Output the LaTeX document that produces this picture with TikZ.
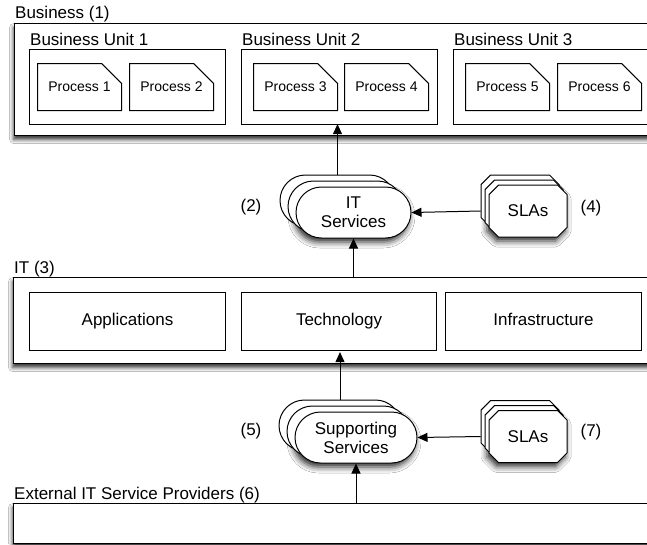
\documentclass[tikz,border=0pt]{standalone}
\usepackage{fontspec}
\setmainfont{Liberation Sans}
\usetikzlibrary{arrows.meta,shapes.misc,shadows,shadows.blur}

\begin{document}
\begin{tikzpicture}[x=1pt,y=-1pt,
  every node/.style={font=\fontsize{17}{19}\selectfont},
  layerbox/.style={draw, fill=white, line width=1.1pt, anchor=north west, inner sep=0pt,
    blur shadow={shadow xshift=-1pt, shadow yshift=-4pt, shadow blur radius=4pt, shadow opacity=80}},
  unitbox/.style={draw, line width=1pt, anchor=north west, inner sep=0pt, minimum width=196pt, minimum height=75pt},
  procbox/.style={chamfered rectangle, chamfered rectangle corners=north east, chamfered rectangle sep=15pt,
    draw, fill=white, line width=1pt, anchor=north west, inner sep=0pt, minimum width=84pt, minimum height=47pt,
    font=\fontsize{14}{16}\selectfont},
  partbox/.style={draw, line width=1pt, anchor=north west, inner sep=0pt, minimum height=58pt,
    text height=12pt, text depth=3.5pt},
  service/.style={rounded rectangle, draw, fill=white, line width=1pt, inner sep=0pt, align=center,
    font=\fontsize{17}{19}\selectfont,
    blur shadow={shadow xshift=-2pt, shadow yshift=-4pt, shadow blur radius=6pt, shadow opacity=85},
    double copy shadow={shadow xshift=-8pt, shadow yshift=6pt, line width=1pt}},
  slabox/.style={chamfered rectangle, chamfered rectangle xsep=9pt, draw, fill=white, line width=1pt, inner sep=0pt,
    minimum width=78pt, minimum height=52pt,
    blur shadow={shadow xshift=-2pt, shadow yshift=-4pt, shadow blur radius=6pt, shadow opacity=85},
    double copy shadow={shadow xshift=-4pt, shadow yshift=5pt, line width=1pt}},
  caption/.style={anchor=base west, inner sep=0pt},
  arr/.style={-{Triangle[length=10pt,width=9pt]}, line width=1pt}]
  \clip (0,0) rectangle (647,544);
  \fill[white] (0,0) rectangle (647,544);

  \node[layerbox, minimum width=646pt, minimum height=112pt] (biz) at (14,23) {};
  \node[caption] (bizlbl) at (15,18.5) {Business (1)};
  \node[unitbox] (bu1) at (29,49) {};
  \node[unitbox] (bu2) at (241,49) {};
  \node[unitbox] (bu3) at (453,49) {};
  \node[caption] (bu1lbl) at (30,45.5) {Business Unit 1};
  \node[caption] (bu2lbl) at (242,45.5) {Business Unit 2};
  \node[caption] (bu3lbl) at (454,45.5) {Business Unit 3};
  \node[procbox] (p1) at (37,63) {Process 1};
  \node[procbox] (p2) at (129,63) {Process 2};
  \node[procbox] (p3) at (253,63) {Process 3};
  \node[procbox] (p4) at (344,63) {Process 4};
  \node[procbox] (p5) at (465,63) {Process 5};
  \node[procbox] (p6) at (557,63) {Process 6};

  \node[service, minimum width=115pt, minimum height=51pt] (itsrv) at (353.5,212.5) {IT\\Services};
  \node[slabox] (sla1) at (528,211) {SLAs};
  \node (n2) at (251,207) {(2)};
  \node (n4) at (591,208) {(4)};

  \node[layerbox, minimum width=647pt, minimum height=86pt] (it) at (13,277) {};
  \node[caption] (itlbl) at (14,273) {IT (3)};
  \node[partbox, minimum width=196pt] (apps) at (29,292) {Applications};
  \node[partbox, minimum width=195pt] (tech) at (241,292) {Technology};
  \node[partbox, minimum width=196pt] (infra) at (445,292) {Infrastructure};

  \node[service, minimum width=122pt, minimum height=51pt] (supsrv) at (356,437.5) {Supporting\\Services};
  \node[slabox] (sla2) at (528,436.5) {SLAs};
  \node (n5) at (251,431) {(5)};
  \node (n7) at (591,432) {(7)};

  \node[layerbox, minimum width=647pt, minimum height=40pt] (ext) at (13,503) {};
  \node[caption] (extlbl) at (14,499) {External IT Service Providers (6)};

  \draw[arr] ([shift={(-16,-12)}]itsrv.north) -- ([shift={(-16,-12)}]itsrv.north |- biz.south);
  \draw[arr] (itsrv.south |- it.north) -- (itsrv.south);
  \draw[arr] ([xshift=-8pt]sla1.west) -- (itsrv.east);
  \draw[arr] ([shift={(-16,-12)}]supsrv.north) -- ([shift={(-16,-12)}]supsrv.north |- it.south);
  \draw[arr] (supsrv.south |- ext.north) -- (supsrv.south);
  \draw[arr] ([xshift=-8pt]sla2.west) -- (supsrv.east);
\end{tikzpicture}
\end{document}
